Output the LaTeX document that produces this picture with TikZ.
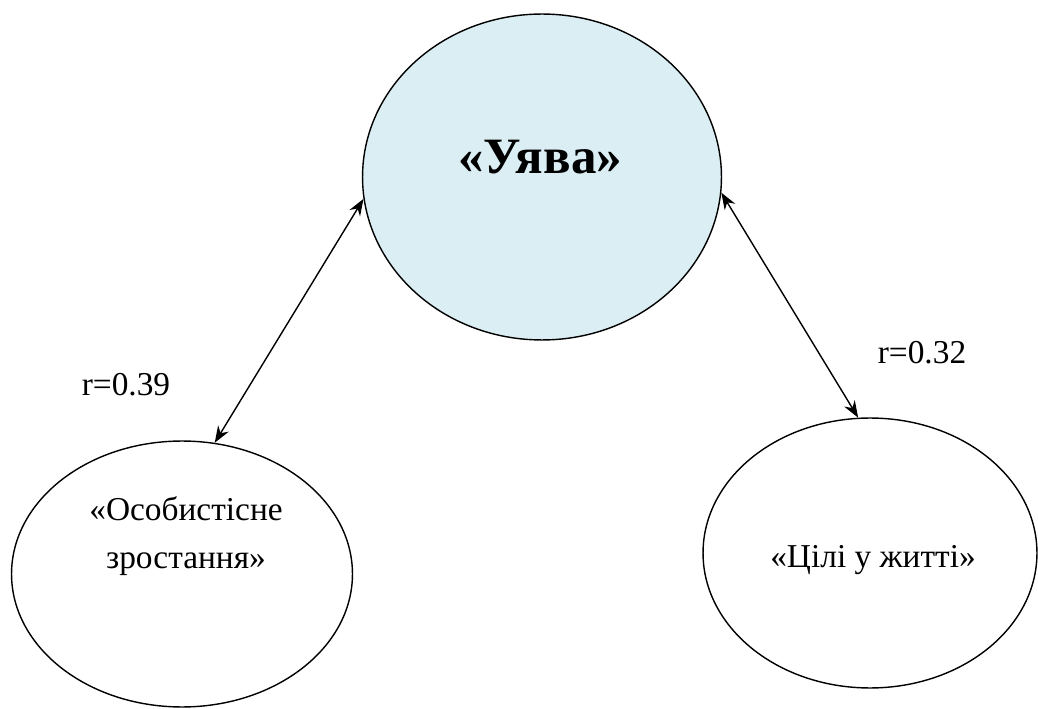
\documentclass[tikz,border=0pt]{standalone}
\usepackage{fontspec}
\setmainfont{Liberation Serif}
\usetikzlibrary{arrows.meta,calc,positioning,shapes.geometric}
\definecolor{skyfill}{RGB}{218,238,243}

\begin{document}
\begin{tikzpicture}[x=0.02cm,y=-0.02cm,>={Stealth[length=9.5pt,width=7pt]},
  oval/.style={draw,ellipse,inner sep=0pt,line width=0.8pt},
  link/.style={<->,line width=0.8pt},
  lbl/.style={font=\fontsize{19}{27}\selectfont}]
\useasboundingbox (0,0) rectangle (1038,709);
\node[oval,fill=skyfill,minimum width=7.18cm,minimum height=6.52cm] (uyava) at (542,177) {};
\node[oval,minimum width=6.82cm,minimum height=5.32cm] (rist) at (182,574) {};
\node[oval,minimum width=6.68cm,minimum height=5.4cm] (tsili) at (870,553) {};
\node[font=\bfseries\fontsize{29}{34}\selectfont] (uyavaT) at (540,157) {«Уява»};
\node[lbl,align=center] (ristT) at (186,536) {«Особистісне\\зростання»};
\node[lbl] (tsiliT) at (873,560) {«Цілі у житті»};
\draw[link] (rist.76) -- (uyava.187);
\draw[link] (uyava.355) -- (tsili.95);
\node[lbl] (r1) at (126,385) {r=0.39};
\node[lbl] (r2) at (922,353) {r=0.32};
\end{tikzpicture}
\end{document}
